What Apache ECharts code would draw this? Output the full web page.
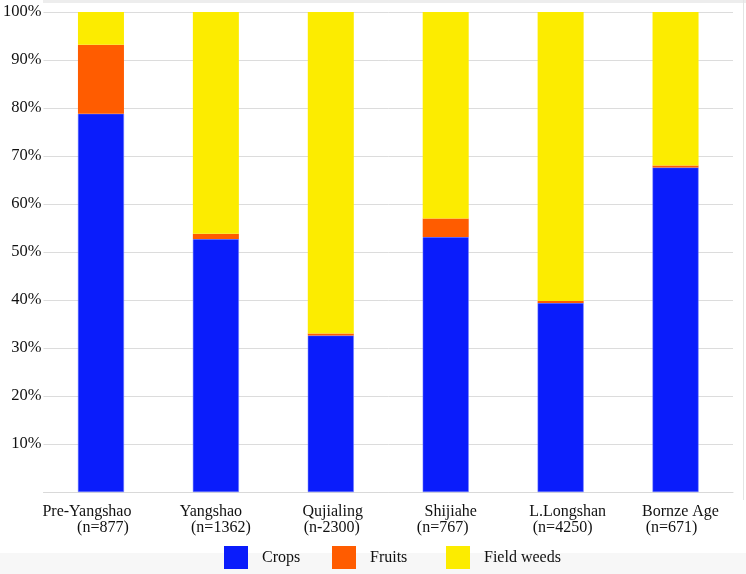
<!DOCTYPE html>
<html>
<head>
<meta charset="utf-8">
<script src="https://cdn.jsdelivr.net/npm/echarts@6/dist/echarts.min.js"></script>
<style>
html,body{margin:0;padding:0;background:#fff;}
#chart{width:746px;height:574px;}
</style>
</head>
<body>
<div id="chart"></div>
<script>
const categories = ['Pre-Yangshao', 'Yangshao', 'Qujialing', 'Shijiahe', 'L.Longshan', 'Bornze Age'];
const sampleSizes = ['n=877', 'n=1362', 'n-2300', 'n=767', 'n=4250', 'n=671'];
const crops = [78.8, 52.7, 32.6, 53.1, 39.4, 67.6];
const fruits = [14.4, 1.1, 0.4, 3.9, 0.4, 0.4];
const fieldWeeds = [6.8, 46.2, 67.0, 43.0, 60.2, 32.0];
const yTicks = [10, 20, 30, 40, 50, 60, 70, 80, 90, 100];

// horizontal nudges of each label line (layout only)
const line1Shift = [-14, -5, 2, 5, 7, 5];
const line2Shift = [2, 5, 1, -3, 2, -4];

const FONT = '"Liberation Serif", "Times New Roman", serif';
const COLORS = ['#0a1cfb', '#ff5c00', '#fcec00'];

function shiftPad(d) {
  return d >= 0 ? [0, 0, 0, 2 * d] : [0, -2 * d, 0, 0];
}
const rich = {};
for (let i = 0; i < categories.length; i++) {
  rich['a' + i] = { fontFamily: FONT, fontSize: 16, color: '#111', lineHeight: 16, padding: shiftPad(line1Shift[i]) };
  rich['b' + i] = { fontFamily: FONT, fontSize: 16, color: '#111', lineHeight: 16, padding: shiftPad(line2Shift[i]) };
}

const chart = echarts.init(document.getElementById('chart'), null, { renderer: 'canvas' });

function legendFor(name, left) {
  return {
    data: [name], left: left, top: 546, padding: 0,
    icon: 'rect', itemWidth: 24, itemHeight: 23,
    selectedMode: false,
    itemStyle: { borderWidth: 0 },
    textStyle: { fontFamily: FONT, fontSize: 16, color: '#111', padding: [0, 0, 0, 9] }
  };
}

const option = {
  animation: false,
  backgroundColor: '#ffffff',
  color: COLORS,
  graphic: [
    { type: 'rect', left: 43, top: 0, shape: { width: 703, height: 3 }, style: { fill: '#ededed' }, z: -10 },
    { type: 'rect', left: 743, top: 0, shape: { width: 1, height: 500 }, style: { fill: '#e4e4e4' }, z: -10 },
    { type: 'rect', left: 0, top: 553, shape: { width: 746, height: 21 }, style: { fill: '#f7f7f7' }, z: -10 }
  ],
  legend: [
    legendFor('Crops', 224),
    legendFor('Fruits', 332),
    legendFor('Field weeds', 446)
  ],
  grid: { left: 43, right: 13, top: 12, bottom: 82 },
  xAxis: {
    type: 'category',
    data: categories,
    axisLine: { show: true, lineStyle: { color: '#d9d9d9', width: 1 } },
    axisTick: { show: false },
    axisLabel: {
      interval: 0,
      margin: 12,
      formatter: function (value, index) {
        return '{a' + index + '|' + value + '}\n{b' + index + '|(' + sampleSizes[index] + ')}';
      },
      rich: rich
    }
  },
  yAxis: {
    type: 'value',
    min: 0, max: 100, interval: 10,
    axisLine: { show: false },
    axisTick: { show: false },
    splitLine: { show: true, lineStyle: { color: '#dcdcdc', width: 1 } },
    axisLabel: {
      margin: 2,
      fontFamily: FONT, fontSize: 16.5, color: '#111',
      formatter: function (v) { return yTicks.indexOf(v) >= 0 ? v + '%' : ''; }
    }
  },
  series: [
    { name: 'Crops', type: 'bar', stack: 'all', data: crops, barWidth: 46,
      itemStyle: { color: COLORS[0], borderColor: '#6f7dff', borderWidth: 0.5 } },
    { name: 'Fruits', type: 'bar', stack: 'all', data: fruits, barWidth: 46,
      itemStyle: { color: COLORS[1] } },
    { name: 'Field weeds', type: 'bar', stack: 'all', data: fieldWeeds, barWidth: 46,
      itemStyle: { color: COLORS[2] } }
  ]
};
chart.setOption(option);
</script>
</body>
</html>
